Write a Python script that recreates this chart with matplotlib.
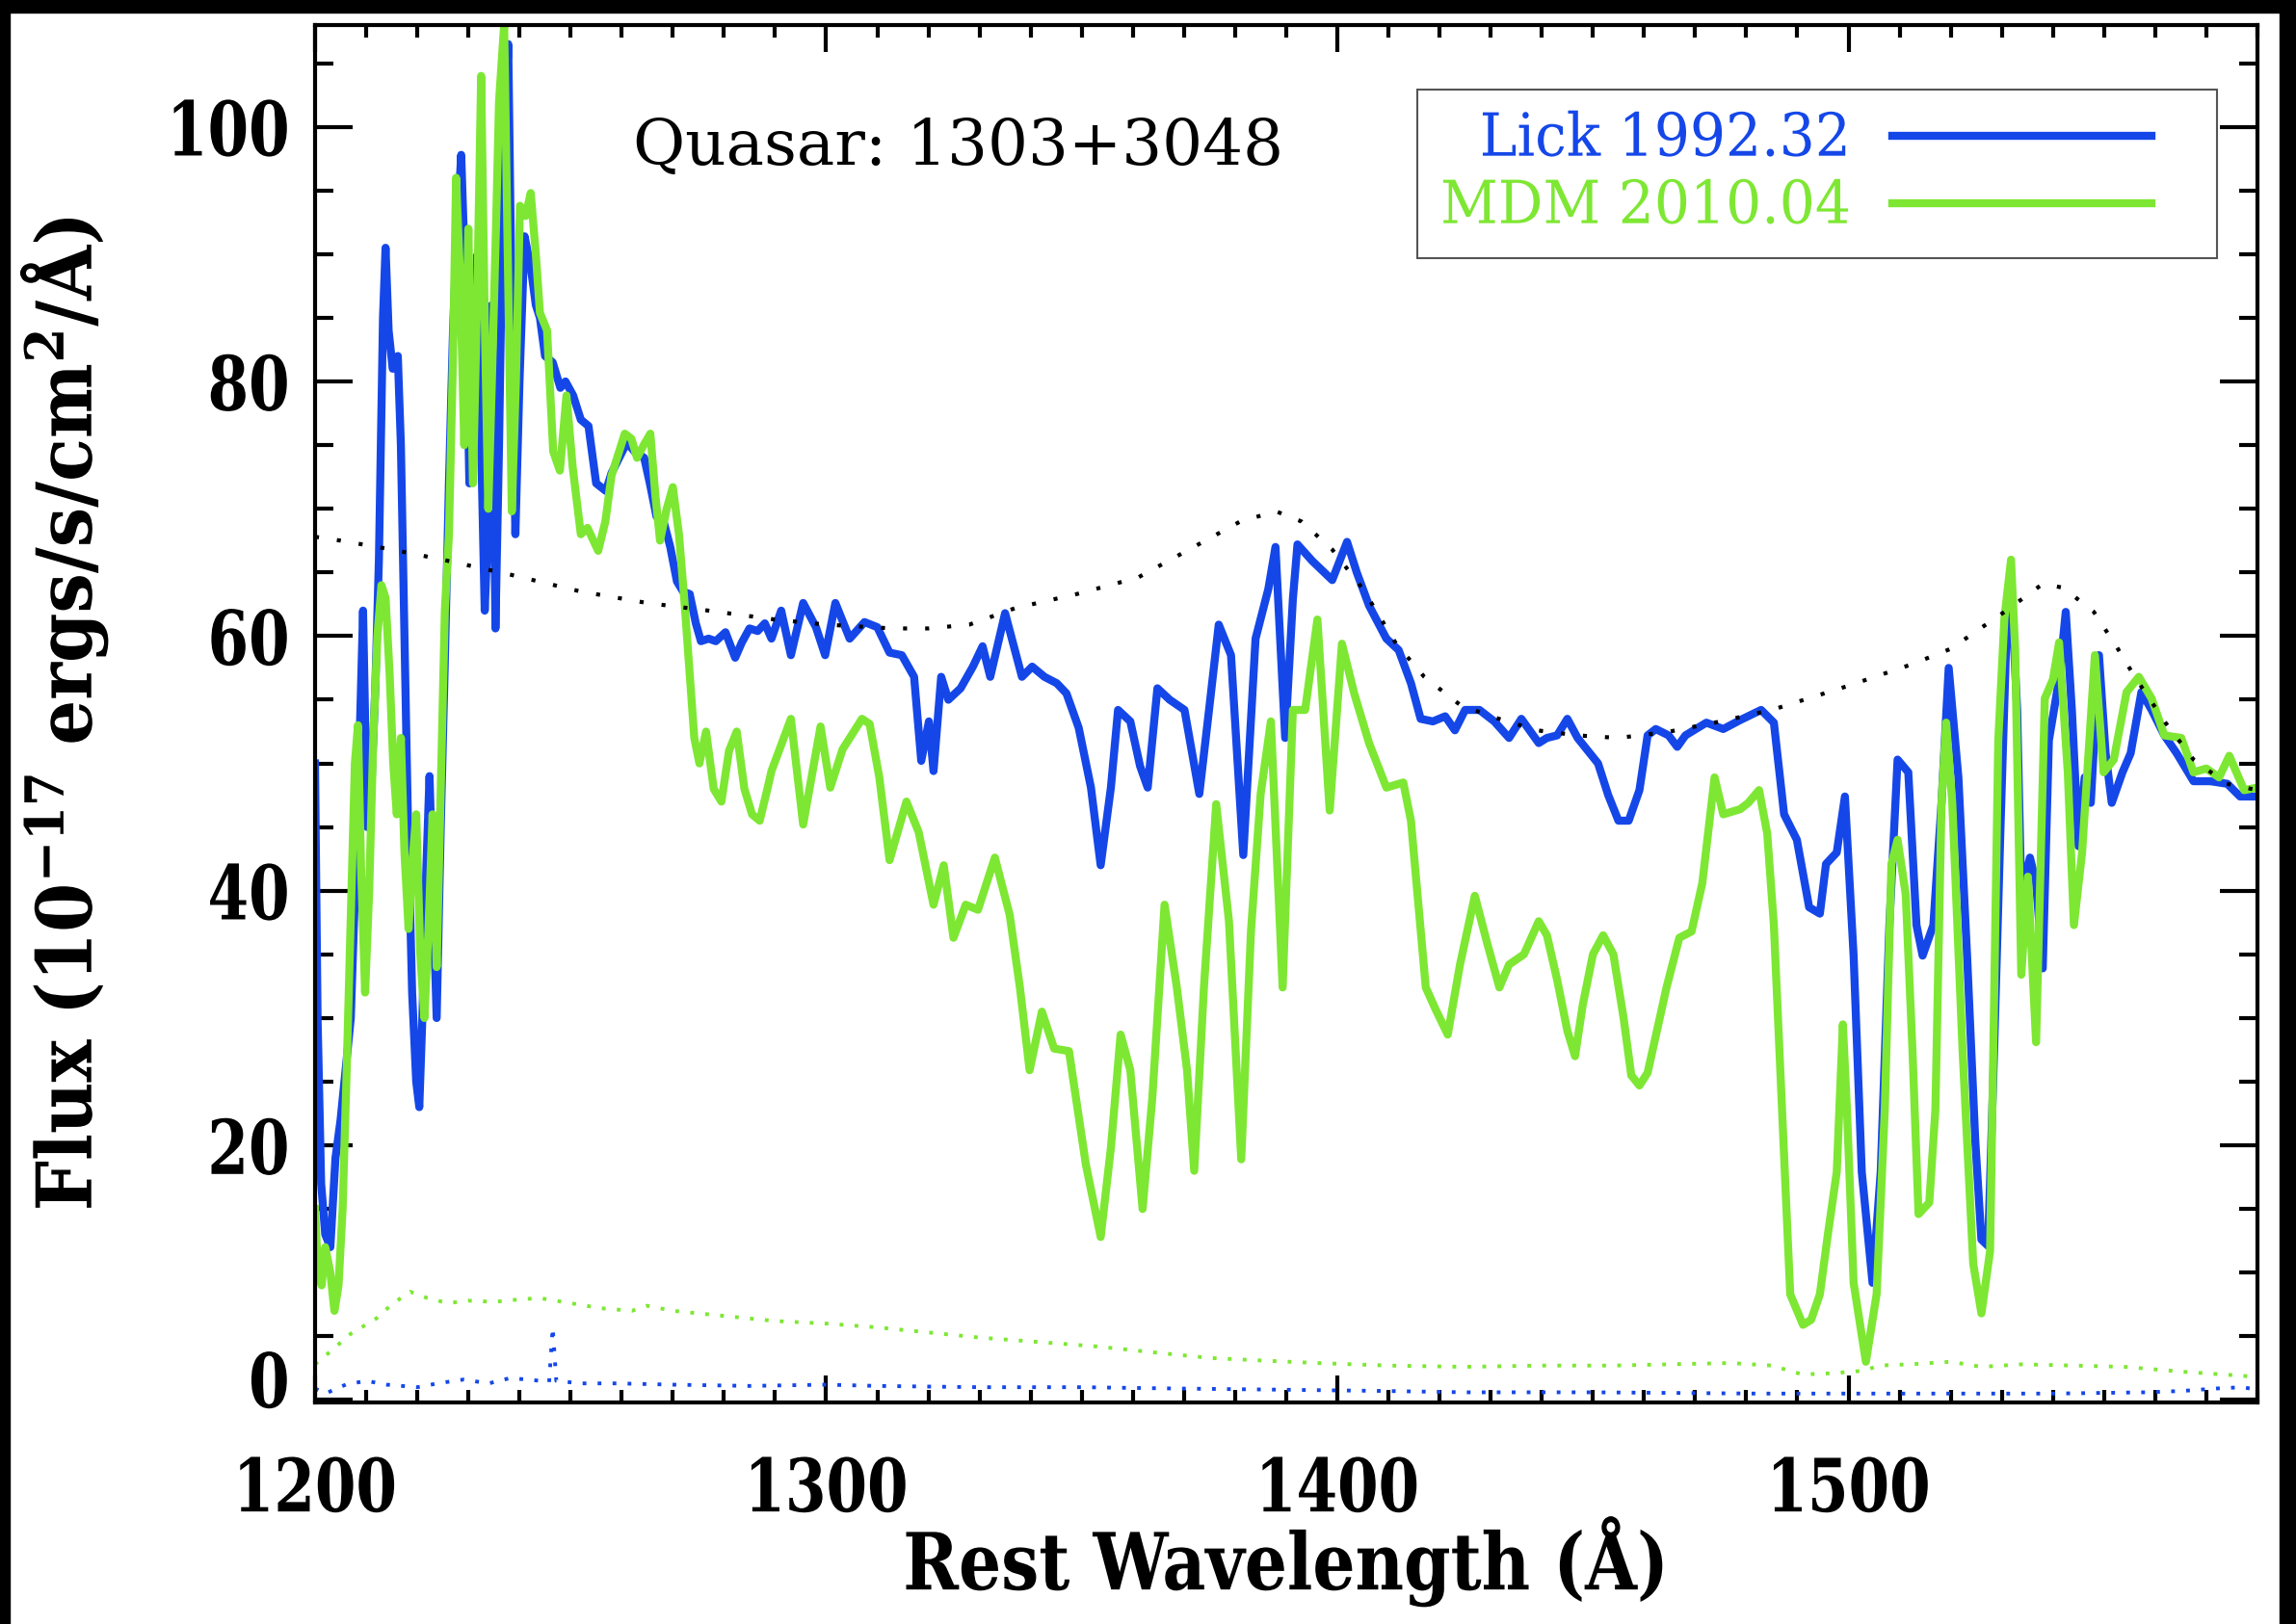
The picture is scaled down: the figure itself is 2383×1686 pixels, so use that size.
import numpy as np
import matplotlib
matplotlib.use('Agg')
import matplotlib.pyplot as plt
from matplotlib.ticker import MultipleLocator
from matplotlib.patheffects import AbstractPathEffect
from matplotlib.transforms import Affine2D, ScaledTranslation
from matplotlib.patches import Rectangle
from matplotlib.lines import Line2D
from matplotlib.legend_handler import HandlerLine2D

# Lick 1992.32 spectrum (blue)
wave_lick = [1200.0, 1200.5, 1201.2, 1202.0, 1203.0, 1204.0, 1205.0, 1206.0, 1207.0, 1208.0,
             1208.8, 1209.4, 1210.2, 1211.0, 1211.8, 1212.5, 1213.3, 1213.8, 1214.4, 1215.2,
             1216.2, 1216.8, 1217.4, 1218.2, 1219.0, 1219.8, 1220.4, 1221.0, 1221.8, 1222.4,
             1223.2, 1223.8, 1224.6, 1225.4, 1226.2, 1227.0, 1227.8, 1228.6, 1229.4, 1230.2,
             1231.0, 1231.8, 1232.5, 1233.2, 1234.0, 1234.6, 1235.3, 1236.0, 1236.8, 1237.8,
             1238.5, 1239.2, 1240.0, 1241.0, 1242.2, 1243.2, 1244.0, 1245.0, 1246.5, 1248.0,
             1249.0, 1250.5, 1252.0, 1253.5, 1255.0, 1256.9, 1258.0, 1259.5, 1261.0, 1262.5,
             1264.4, 1265.5, 1266.8, 1268.2, 1269.5, 1270.8, 1272.0, 1273.3, 1274.5, 1275.5,
             1277.0, 1278.4, 1280.3, 1282.2, 1283.5, 1285.0, 1286.6, 1288.0, 1289.3, 1291.2,
             1293.1, 1295.5, 1298.0, 1299.8, 1301.8, 1304.6, 1307.5, 1310.0, 1312.4, 1314.8,
             1317.2, 1318.6, 1320.1, 1321.0, 1322.5, 1323.9, 1326.3, 1328.7, 1330.6, 1332.1,
             1335.0, 1338.3, 1340.3, 1342.7, 1345.1, 1347.0, 1349.4, 1351.8, 1353.7, 1355.7,
             1357.1, 1359.5, 1361.4, 1362.9, 1364.8, 1367.2, 1370.1, 1373.0, 1374.9, 1376.8,
             1379.2, 1381.6, 1384.0, 1386.5, 1387.9, 1389.8, 1391.3, 1392.2, 1395.1, 1399.0,
             1401.9, 1403.8, 1406.2, 1409.6, 1412.0, 1414.4, 1416.3, 1418.7, 1421.1, 1423.0,
             1425.0, 1427.8, 1430.7, 1433.6, 1436.0, 1439.4, 1441.0, 1443.0, 1445.0, 1447.0,
             1449.0, 1451.0, 1453.0, 1455.0, 1457.0, 1459.1, 1460.7, 1462.3, 1464.8, 1466.5,
             1468.1, 1472.2, 1475.5, 1478.8, 1482.9, 1485.4, 1487.4, 1489.9, 1492.3, 1494.4,
             1495.6, 1497.7, 1499.3, 1501.0, 1502.6, 1504.7, 1506.3, 1508.0, 1509.6, 1511.7,
             1513.3, 1514.5, 1516.6, 1518.2, 1519.6, 1521.5, 1523.2, 1524.8, 1526.0, 1527.3,
             1528.5, 1529.7, 1531.0, 1531.8, 1533.0, 1533.8, 1535.5, 1536.7, 1538.0, 1539.2,
             1541.2, 1542.5, 1543.7, 1545.0, 1546.2, 1547.4, 1549.0, 1550.3, 1551.5, 1553.6,
             1555.2, 1557.3, 1559.3, 1561.8, 1564.2, 1567.5, 1570.8, 1574.1, 1576.6, 1580.0]
flux_lick = [50, 30, 17, 13, 12, 19, 22, 26, 30, 42,
             53, 62, 45, 48, 56, 66, 85, 90.5, 84, 81,
             82, 75, 62, 45, 32, 25, 23, 30, 42, 49,
             38, 30, 45, 58, 72, 84, 92, 97.8, 88, 72,
             78, 90, 75, 62, 70, 86, 60.6, 75, 96, 106.5,
             85, 68, 80, 91.4, 89, 86, 85, 82, 81.5, 79.5,
             80, 78.9, 77, 76.5, 72, 71.4, 72.8, 74, 75.2, 74.5,
             74, 72, 69.4, 69, 67, 64.3, 63.5, 63.3, 61, 59.6,
             59.8, 59.6, 60.3, 58.3, 59.5, 60.6, 60.4, 61, 59.8, 62,
             58.5, 62.6, 60.7, 58.5, 62.6, 59.8, 61.1, 60.7, 58.7, 58.5,
             56.8, 50.2, 53.3, 49.4, 56.8, 55, 55.9, 57.6, 59.2, 56.8,
             61.8, 56.8, 57.6, 56.8, 56.3, 55.5, 52.8, 48.1, 42, 48.1,
             54.2, 53.3, 49.8, 48.1, 55.9, 55, 54.2, 47.6, 54.2, 60.9,
             58.5, 42.8, 59.8, 63.7, 67, 52, 62.9, 67.2, 65.9, 64.4,
             67.4, 65, 62.4, 59.8, 58.9, 56.3, 53.5, 53.3, 53.7, 52.6,
             54.2, 54.2, 53.3, 52, 53.5, 51.6, 52, 52.2, 53.5, 52,
             51, 50, 47.5, 45.5, 45.5, 47.9, 52.2, 52.7, 52.2, 51.3,
             52.2, 53.2, 52.7, 53.4, 54.2, 53.2, 46, 44, 38.7, 38.2,
             42.1, 43, 47.4, 34.9, 17.9, 9.2, 17.9, 37.3, 50.3, 49.3,
             37.3, 34.9, 37.3, 46.9, 57.5, 48.9, 34.9, 20.4, 12.6, 12.1,
             27.6, 44.5, 61.4, 64, 54.2, 39.7, 42.6, 40.6, 33.9, 51.8,
             56.6, 61.9, 54.2, 43.5, 48.9, 46.9, 58.5, 50.8, 46.9, 49.3,
             50.8, 55.6, 54.2, 52.2, 50.8, 48.6, 48.6, 48.4, 47.4, 47.4]

# MDM 2010.04 spectrum (green)
wave_mdm = [1200.0, 1200.6, 1201.3, 1202.0, 1203.0, 1203.8, 1204.6, 1205.4, 1206.2, 1207.0,
            1207.8, 1208.4, 1209.0, 1209.8, 1210.6, 1211.4, 1212.2, 1213.0, 1213.8, 1214.6,
            1215.3, 1216.0, 1216.8, 1217.5, 1218.3, 1219.0, 1219.8, 1220.6, 1221.4, 1222.2,
            1223.0, 1223.8, 1224.6, 1225.4, 1226.2, 1227.0, 1227.6, 1228.4, 1229.2, 1230.0,
            1230.9, 1231.8, 1232.5, 1233.2, 1233.9, 1234.6, 1235.4, 1236.0, 1237.0, 1237.7,
            1238.5, 1239.3, 1240.1, 1241.2, 1242.2, 1243.2, 1244.0, 1245.4, 1246.6, 1247.9,
            1249.2, 1250.4, 1252.0, 1253.3, 1255.4, 1256.8, 1258.0, 1259.5, 1260.6, 1261.9,
            1263.0, 1264.3, 1265.6, 1266.6, 1267.5, 1268.8, 1270.0, 1271.2, 1272.3, 1273.3,
            1274.2, 1275.2, 1276.5, 1278.0, 1279.5, 1281.0, 1282.5, 1284.0, 1285.5, 1287.0,
            1288.5, 1289.3, 1293.1, 1295.5, 1298.9, 1300.8, 1303.2, 1307.0, 1308.5, 1310.4,
            1312.4, 1315.7, 1318.1, 1321.0, 1323.0, 1324.9, 1327.3, 1329.7, 1333.0, 1335.9,
            1337.9, 1339.8, 1342.2, 1344.6, 1347.5, 1350.8, 1353.7, 1355.7, 1357.6, 1359.5,
            1361.9, 1363.8, 1366.2, 1368.6, 1370.6, 1372.0, 1373.9, 1376.3, 1378.8, 1381.2,
            1383.1, 1385.0, 1387.0, 1389.3, 1391.3, 1393.7, 1396.1, 1398.5, 1400.9, 1403.3,
            1406.2, 1409.6, 1412.9, 1414.4, 1417.3, 1419.2, 1421.6, 1424.0, 1426.9, 1429.3,
            1431.7, 1433.6, 1436.5, 1439.4, 1441.0, 1443.0, 1445.0, 1446.5, 1448.0, 1450.0,
            1452.0, 1454.0, 1456.0, 1457.5, 1459.1, 1460.7, 1462.3, 1464.4, 1466.9, 1469.3,
            1471.4, 1473.8, 1475.5, 1478.8, 1480.4, 1482.5, 1484.1, 1485.4, 1487.0, 1488.6,
            1491.1, 1492.7, 1494.4, 1496.0, 1497.7, 1498.9, 1499.7, 1501.0, 1503.4, 1505.5,
            1507.1, 1508.4, 1509.6, 1511.2, 1512.5, 1513.7, 1515.8, 1517.0, 1518.2, 1519.1,
            1520.3, 1522.3, 1524.4, 1526.0, 1527.7, 1529.3, 1530.5, 1531.8, 1532.6, 1533.8,
            1535.1, 1536.7, 1538.4, 1540.0, 1541.2, 1542.9, 1544.1, 1545.7, 1548.2, 1549.9,
            1551.9, 1554.4, 1556.8, 1559.3, 1561.8, 1565.1, 1567.5, 1570.0, 1572.5, 1574.5,
            1577.4, 1580.0]
flux_mdm = [15, 10, 9, 12, 10, 7, 9, 15, 26, 38,
            50, 53, 42, 32, 40, 52, 60, 64, 63, 57,
            50, 46, 52, 43, 37, 42, 46, 35, 30, 37,
            46, 34, 48, 62, 68, 82, 96, 88, 75, 92,
            72, 88, 104, 85, 70, 80, 92, 102, 108, 90,
            69.8, 80, 93.8, 93, 94.8, 90, 85.4, 84, 74.5, 73,
            78.9, 73.3, 68, 68.5, 66.7, 69, 72.6, 74.5, 75.9, 75.5,
            74, 75, 75.9, 71, 67.5, 70, 71.7, 68, 62.6, 57,
            52, 50, 52.5, 48, 47, 51, 52.5, 48, 46, 45.5,
            48, 49.4, 53.5, 45.2, 52.9, 48.1, 51.1, 53.5, 53.1, 48.9,
            42.4, 47, 44.6, 38.9, 42, 36.3, 38.9, 38.5, 42.6, 38.1,
            32.4, 25.9, 30.5, 27.6, 27.4, 18.5, 12.8, 19.8, 28.7, 25.9,
            15, 23.7, 38.9, 32.4, 25.9, 18, 32.4, 46.8, 37.6, 18.9,
            36.8, 47.6, 53.3, 32.4, 54.2, 54.2, 61.3, 46.3, 59.4, 55.5,
            51.6, 48.1, 48.5, 45.5, 32.4, 30.7, 28.7, 34.2, 39.6, 35.9,
            32.4, 34.2, 35, 37.6, 36.5, 33, 29, 27, 31, 35,
            36.5, 35, 30, 25.5, 24.7, 25.7, 28.6, 32.4, 36.3, 36.8,
            40.6, 48.9, 46, 46.4, 46.9, 47.9, 44.5, 37.3, 22.8, 8.3,
            5.9, 6.3, 8.3, 13.1, 17.9, 29.5, 22.8, 9.2, 3, 8.3,
            22.8, 42.1, 44, 39.7, 27.6, 14.6, 15.5, 22.8, 46.9, 53.2,
            46.9, 27.6, 10.7, 6.8, 11.7, 51.8, 61.4, 66, 59, 33.4,
            41.1, 28.1, 55.1, 56.6, 59.5, 49.3, 37.3, 43, 58.5, 49.3,
            50.3, 55.6, 56.8, 55.1, 52.2, 52, 49.3, 49.6, 48.9, 50.6,
            47.9, 48.1]

# continuum fit (black dotted)
wave_cont = [1200, 1205, 1215, 1225, 1238.5, 1252, 1265, 1277, 1290, 1300,
             1313, 1320, 1328, 1337, 1349, 1361, 1371, 1381, 1388, 1393,
             1399, 1405, 1411.5, 1417, 1424, 1430, 1439, 1447, 1455, 1465,
             1475, 1485, 1500, 1512.5, 1520, 1530.5, 1538, 1542, 1548, 1552.7,
             1556, 1562, 1567.5, 1574, 1580]
flux_cont = [67.8, 67.5, 66.8, 66, 64.8, 63.5, 62.6, 62, 61.3, 60.9,
             60.6, 60.6, 60.9, 62.2, 63.3, 64.6, 66.8, 69, 69.8, 69,
             66.8, 63.7, 59.4, 56.8, 54.6, 53.7, 52.6, 52.2, 52, 52.5,
             53.3, 54.2, 56.1, 57.8, 59, 61.9, 64.1, 63.8, 61.9, 59,
             56.8, 53.2, 50.3, 48.4, 47.9]

# 1-sigma errors (dotted)
wave_err_mdm = [1200, 1203, 1207, 1212, 1215, 1218.6, 1222, 1226, 1230, 1235,
                1240, 1244, 1250, 1256, 1262, 1265, 1270, 1280, 1290, 1300,
                1310, 1320, 1330, 1340, 1353, 1365, 1375, 1385, 1396, 1410,
                1425, 1440, 1454, 1465, 1477, 1485, 1491, 1497, 1503, 1506,
                1512, 1520, 1526, 1534, 1544, 1554, 1566, 1577, 1580]
err_mdm = [2.8, 3.8, 5.2, 6.4, 7.5, 8.5, 8.0, 7.6, 7.8, 7.7,
           7.9, 8.0, 7.6, 7.2, 7.0, 7.4, 7.0, 6.6, 6.2, 6.0,
           5.7, 5.3, 4.9, 4.6, 4.2, 3.7, 3.3, 3.1, 2.9, 2.7,
           2.6, 2.7, 2.7, 2.8, 2.9, 2.7, 2.0, 2.1, 2.3, 2.7,
           2.8, 3.0, 2.6, 2.8, 2.7, 2.6, 2.2, 1.9, 1.8]
wave_err_lick = [1200, 1202, 1206, 1210, 1214, 1220, 1224, 1229, 1234, 1238,
                 1242, 1245.8, 1246.5, 1247.2, 1252, 1259, 1270, 1285, 1300, 1310,
                 1330, 1350, 1368, 1390, 1410, 1425, 1450, 1482, 1500, 1520,
                 1540, 1558, 1565, 1572, 1577, 1580]
err_lick = [0.9, 0.5, 1.2, 1.5, 1.2, 1.0, 1.3, 1.6, 1.3, 1.7,
            1.6, 1.4, 5.7, 1.5, 1.3, 1.3, 1.2, 1.1, 1.2, 1.1,
            1.0, 1.0, 0.9, 0.8, 0.7, 0.6, 0.6, 0.5, 0.5, 0.5,
            0.5, 0.6, 0.7, 0.9, 1.0, 0.8]

BLUE = '#1547e8'
GREEN = '#7ee733'


class Tall(AbstractPathEffect):
    # stretch glyphs vertically (IDL fonts are tall and narrow)
    def __init__(self, sy, anchor=0.0):
        super().__init__()
        self.sy = sy
        self.anchor = anchor

    def draw_path(self, renderer, gc, tpath, affine, rgbFace=None):
        a = self.anchor
        st = Affine2D().translate(0, -a).scale(1, self.sy).translate(0, a)
        renderer.draw_path(gc, tpath, st + affine, rgbFace)


if __name__ == '__main__':

  plt.rcParams['font.family'] = ['DejaVu Serif']
  plt.rcParams['mathtext.default'] = 'regular'

  fig = plt.figure(figsize=(23.83, 16.86), dpi=100)
  ax = fig.add_axes([0.1372, 0.1364, 0.8460, 0.8482])

  ax.plot(wave_lick, flux_lick, color=BLUE, lw=6, label='Lick 1992.32')
  ax.plot(wave_mdm, flux_mdm, color=GREEN, lw=6, label='MDM 2010.04')
  ax.plot(wave_cont, flux_cont, color='black', lw=3, ls=(0, (1, 4.5)))
  ax.plot(wave_err_mdm, err_mdm, color=GREEN, lw=2.8, ls=(0, (1, 3)))
  ax.plot(wave_err_lick, err_lick, color=BLUE, lw=2.8, ls=(0, (1, 3)))

  ax.set_xlim(1200, 1580)
  ax.set_ylim(-0.2, 108)
  ax.xaxis.set_major_locator(MultipleLocator(100))
  ax.xaxis.set_minor_locator(MultipleLocator(10))
  ax.yaxis.set_major_locator(MultipleLocator(20))
  ax.yaxis.set_minor_locator(MultipleLocator(5))
  ax.tick_params(which='both', direction='in', top=True, right=True, width=3, labelsize=44)
  ax.tick_params(axis='x', which='major', length=20, pad=39.6)
  ax.tick_params(axis='x', which='minor', length=9.4)
  ax.tick_params(axis='y', which='major', length=28, pad=19)
  ax.tick_params(axis='y', which='minor', length=13.7)
  for sp in ax.spines.values():
    sp.set_linewidth(3)

  ax.set_xlabel('Rest Wavelength (Å)', fontsize=50, fontweight='bold')
  ax.xaxis.set_label_coords(0.5, -0.091)
  ax.xaxis.label.set_va('top')
  ax.set_ylabel('Flux (10$^{-17}$ ergs/s/cm$^{2}$/Å)', fontsize=53, fontweight='bold')
  ax.yaxis.set_label_coords(-0.1057, 0.5)
  ax.xaxis.label.set_path_effects([Tall(1.18, 0.0)])
  ax.yaxis.label.set_path_effects([Tall(1.08, 0.0)])

  ax.text(0.1637, 0.8986, 'Quasar: 1303+3048', transform=ax.transAxes,
          fontsize=47.5, ha='left', va='baseline')

  # the sample line sits inset in its handle box, leaving room at the right
  hmap = {Line2D: HandlerLine2D(numpoints=2, marker_pad=0.74)}
  leg = ax.legend(loc='upper right', bbox_to_anchor=(0.979, 0.953),
                  borderaxespad=0, markerfirst=False, handler_map=hmap,
                  labelcolor='linecolor', prop={'size': 42},
                  handlelength=6.09, handletextpad=0.0, borderpad=0.42,
                  labelspacing=0.24, fancybox=False, framealpha=1,
                  edgecolor='#555555')
  leg.get_frame().set_linewidth(1.5)
  for txt in leg.get_texts():
    txt.set_path_effects([Tall(1.06, 0.0)])

  # black border of the original slide
  for r in [(0, 0, 10 / 2383, 1), (0, 1 - 13 / 1686, 1, 13 / 1686),
            (2366 / 2383, 0, 17 / 2383, 1)]:
    fig.add_artist(Rectangle(r[:2], r[2], r[3], transform=fig.transFigure,
                             color='black', zorder=10))

  fig.canvas.draw()
  for t in ax.xaxis.get_major_ticks():
    t.label1.set_fontweight('bold')
    t.label1.set_path_effects([Tall(1.25, 72.9)])
  for t in ax.yaxis.get_major_ticks():
    t.label1.set_fontweight('bold')
    t.label1.set_path_effects([Tall(1.28, 36.5)])
    if abs(t.get_loc()) < 1e-6:
      # the zero label sits a little above its tick in the original
      lab0 = t.label1
      lab0.set_transform(lab0.get_transform() + ScaledTranslation(0, 0.22, fig.dpi_scale_trans))

  fig.savefig('out.png', dpi=100)
